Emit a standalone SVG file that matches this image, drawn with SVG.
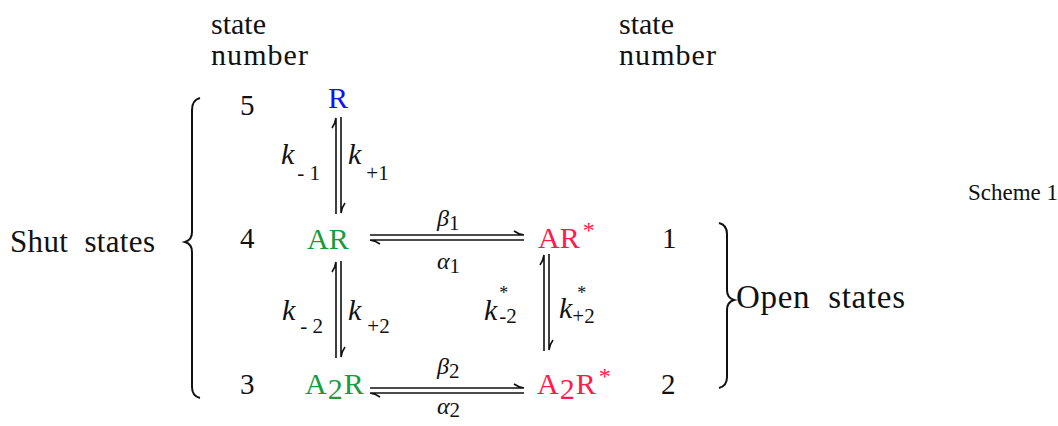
<svg xmlns="http://www.w3.org/2000/svg" width="1058" height="426" viewBox="0 0 1058 426">
<style>
.t{font-family:"Liberation Serif","Times New Roman",serif;fill:#111}
.hd{font-size:30px}
.num{font-size:29px}
.sp{font-size:30px}
.k{font-family:"Liberation Serif",serif;font-style:italic;font-size:30px;fill:#111}
.sub{font-family:"Liberation Serif",serif;font-size:21px;font-style:normal;fill:#111}
.ast{font-family:"Liberation Serif",serif;font-size:18px;font-style:normal;fill:#111}
.gr{font-family:"Liberation Serif",serif;font-style:italic;font-size:24px;fill:#111}
.blue{fill:#1010ff}
.green{fill:#1a9a3c}
.red{fill:#ff1a4c}
.ln{fill:none;stroke:#111;stroke-width:1.6}
.br{fill:none;stroke:#111;stroke-width:2}
</style>
<g id="headers">
<text class="t hd" x="211" y="34">state</text>
<text class="t hd" x="211" y="65" textLength="97">number</text>
<text class="t hd" x="619" y="34">state</text>
<text class="t hd" x="619" y="65" textLength="97">number</text>
<text class="t" x="968" y="200" font-size="23" textLength="90">Scheme 1</text>
</g>
<g id="shut-brace">
<path class="br" d="M200,98 Q192,100 192,110 L192,232 Q192,240 185,242 Q192,244 192,252 L192,387 Q192,396 200,398"/>
<text class="t" font-size="31" x="10" y="252" textLength="145" xml:space="preserve">Shut  states</text>
</g>
<g id="open-brace">
<path class="br" d="M719,223 Q727,225 727,234 L727,290 Q727,298 734,300 Q727,302 727,310 L727,377 Q727,386 719,388"/>
<text class="t" font-size="33" x="736" y="308" textLength="169" xml:space="preserve">Open  states</text>
</g>
<g id="state5">
<text class="t num" x="240" y="115">5</text>
<text class="t sp blue" x="328" y="108">R</text>
</g>
<g id="state4">
<text class="t num" x="240" y="248">4</text>
<text class="t sp green" x="307" y="249">AR</text>
</g>
<g id="state3">
<text class="t num" x="240" y="394">3</text>
<text class="t sp green" x="305" y="394">A<tspan dx="1" dy="5">2</tspan><tspan dx="1" dy="-5">R</tspan></text>
</g>
<g id="state1">
<text class="t sp red" x="538" y="248">AR<tspan dx="3" dy="-10" font-size="24">*</tspan></text>
<text class="t num" x="662" y="248">1</text>
</g>
<g id="state2">
<text class="t sp red" x="537" y="394">A<tspan dx="1" dy="5">2</tspan><tspan dx="1" dy="-5">R</tspan><tspan dx="3" dy="-10" font-size="24">*</tspan></text>
<text class="t num" x="661" y="394">2</text>
</g>
<g id="connectors">
<path class="ln" d="M336,214 L336,118 Q335,124 332,128"/>
<path class="ln" d="M341,117 L341,213 Q342,207 345,203"/>
<path class="ln" d="M336,358 L336,262 Q335,268 332,272"/>
<path class="ln" d="M341,261 L341,357 Q342,351 345,347"/>
<path class="ln" d="M544,351 L544,255 Q543,261 540,265"/>
<path class="ln" d="M549,254 L549,350 Q550,344 553,340"/>
<path class="ln" d="M370,235 L524,235 Q518,234 514,231"/>
<path class="ln" d="M524,240 L370,240 Q376,241 380,244"/>
<path class="ln" d="M370,388 L524,388 Q518,387 514,384"/>
<path class="ln" d="M524,393 L370,393 Q376,394 380,397"/>
</g>
<g id="labels">
<text class="k" x="281" y="164">k<tspan class="sub" dx="3" dy="16" xml:space="preserve">- 1</tspan></text>
<text class="k" x="348" y="164">k<tspan class="sub" dx="5" dy="16">+1</tspan></text>
<text class="k" x="282" y="320">k<tspan class="sub" dx="5" dy="13" xml:space="preserve">- 2</tspan></text>
<text class="k" x="348" y="320">k<tspan class="sub" dx="6" dy="13">+2</tspan></text>
<text class="k" x="484" y="320">k<tspan class="ast" dx="2" dy="-21">*</tspan><tspan class="sub" dx="-9" dy="24">-2</tspan></text>
<text class="k" x="559" y="318">k<tspan class="ast" dx="5" dy="-19">*</tspan><tspan class="sub" dx="-14" dy="24">+2</tspan></text>
<text class="gr" x="437" y="226">β<tspan class="sub" dy="4">1</tspan></text>
<text class="gr" x="437" y="269">α<tspan class="sub" dy="4">1</tspan></text>
<text class="gr" x="437" y="374">β<tspan class="sub" dy="4">2</tspan></text>
<text class="gr" x="437" y="414">α<tspan class="sub" dy="3">2</tspan></text>
</g>
</svg>
